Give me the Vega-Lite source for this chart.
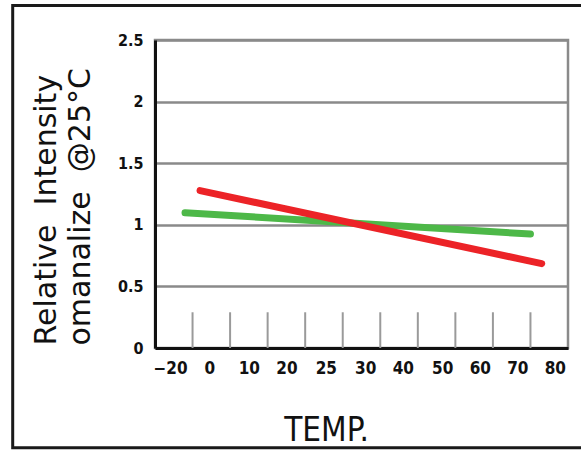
{
  "$schema": "https://vega.github.io/schema/vega-lite/v6.json",
  "width": 413,
  "height": 308,
  "autosize": "none",
  "padding": {"left": 155, "top": 40, "right": 13, "bottom": 103},
  "background": "white",
  "config": {"view": {"stroke": "#8a8a8a", "strokeWidth": 2.5}},
  "datasets": {
    "curves": [
      {"series": "green", "pos": 0.8, "intensity": 1.098},
      {"series": "green", "pos": 10.0, "intensity": 0.925},
      {"series": "red", "pos": 1.2, "intensity": 1.277},
      {"series": "red", "pos": 10.3, "intensity": 0.685}
    ],
    "ticks": [
      {"b": 1}, {"b": 2}, {"b": 3}, {"b": 4}, {"b": 5},
      {"b": 6}, {"b": 7}, {"b": 8}, {"b": 9}, {"b": 10}
    ]
  },
  "layer": [
    {
      "data": {"name": "ticks"},
      "mark": {"type": "rule", "color": "#9a9a9a", "strokeWidth": 2},
      "encoding": {
        "x": {
          "field": "b", "type": "quantitative",
          "scale": {"domain": [0, 11], "nice": false, "zero": false},
          "axis": {
            "values": [0.4, 1.45, 2.5, 3.5, 4.55, 5.6, 6.6, 7.65, 8.65, 9.65, 10.65],
            "labelExpr": "['−20','0','10','20','25','30','40','50','60','70','80'][floor(datum.value)]",
            "grid": false,
            "ticks": false,
            "domainColor": "#111111",
            "domainWidth": 3,
            "labelFont": "DejaVu Sans Condensed",
            "labelFontWeight": "bold",
            "labelFontSize": 17,
            "labelColor": "#111111",
            "labelPadding": 12,
            "labelFlush": false,
            "labelOverlap": false,
            "title": "TEMP.",
            "titleFont": "DejaVu Sans Condensed",
            "titleFontSize": 33,
            "titleFontWeight": "normal",
            "titleColor": "#111111",
            "titleX": 171,
            "titleY": 92,
            "titleBaseline": "alphabetic"
          }
        },
        "y": {
          "datum": 0, "type": "quantitative",
          "scale": {"domain": [0, 2.5], "nice": false},
          "axis": {
            "values": [0, 0.5, 1, 1.5, 2, 2.5],
            "format": "~g",
            "grid": true,
            "gridColor": "#8a8a8a",
            "gridWidth": 2.5,
            "ticks": false,
            "domainColor": "#111111",
            "domainWidth": 3,
            "labelFont": "DejaVu Sans Condensed",
            "labelFontWeight": "bold",
            "labelFontSize": 16,
            "labelColor": "#111111",
            "labelPadding": 12,
            "title": ["Relative \u00a0Intensity", "omanalize \u00a0@25°C"],
            "titleFont": "DejaVu Sans",
            "titleFontSize": 30,
            "titleFontWeight": "normal",
            "titleColor": "#111111",
            "titleAngle": -90,
            "titleAlign": "left",
            "titleBaseline": "alphabetic",
            "titleLineHeight": 34,
            "titleX": -100,
            "titleY": 305
          }
        },
        "y2": {"datum": 0.29}
      }
    },
    {
      "data": {"name": "curves"},
      "mark": {"type": "line", "strokeWidth": 7, "strokeCap": "round"},
      "encoding": {
        "x": {"field": "pos", "type": "quantitative"},
        "y": {"field": "intensity", "type": "quantitative"},
        "color": {
          "field": "series", "type": "nominal",
          "scale": {"domain": ["green", "red"], "range": ["#4db848", "#ec2327"]},
          "legend": null
        }
      }
    },
    {
      "data": {"values": [{"frame": "border"}]},
      "mark": {"type": "rect", "filled": false, "stroke": "#1a1a1a", "strokeWidth": 3, "clip": false},
      "encoding": {
        "x": {"datum": -3.79, "type": "quantitative"},
        "x2": {"datum": 11.9},
        "y": {"datum": 2.78, "type": "quantitative"},
        "y2": {"datum": -0.81}
      }
    }
  ]
}
